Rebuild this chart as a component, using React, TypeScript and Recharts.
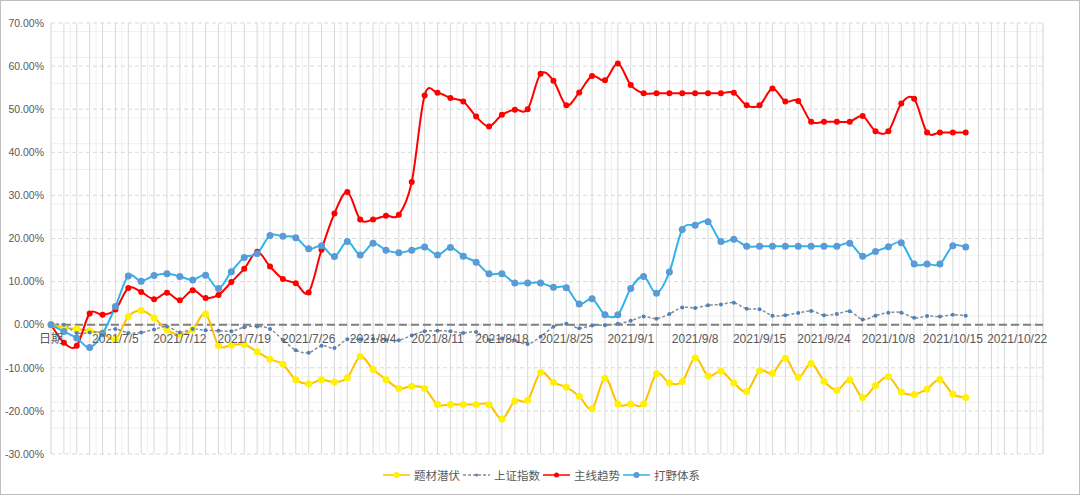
import React from 'react';
import { LineChart, Line, XAxis, YAxis, CartesianGrid, ReferenceLine, Legend } from 'recharts';

const CATEGORIES = [
  '日期', '2021/6/29', '2021/6/30', '2021/7/1', '2021/7/2',
  '2021/7/5', '2021/7/6', '2021/7/7', '2021/7/8', '2021/7/9',
  '2021/7/12', '2021/7/13', '2021/7/14', '2021/7/15', '2021/7/16',
  '2021/7/19', '2021/7/20', '2021/7/21', '2021/7/22', '2021/7/23',
  '2021/7/26', '2021/7/28', '2021/7/29', '2021/7/30', '2021/8/3',
  '2021/8/4', '2021/8/5', '2021/8/6', '2021/8/9', '2021/8/10',
  '2021/8/11', '2021/8/12', '2021/8/13', '2021/8/16', '2021/8/17',
  '2021/8/18', '2021/8/19', '2021/8/20', '2021/8/23', '2021/8/24',
  '2021/8/25', '2021/8/26', '2021/8/27', '2021/8/30', '2021/8/31',
  '2021/9/1', '2021/9/2', '2021/9/3', '2021/9/6', '2021/9/7',
  '2021/9/8', '2021/9/9', '2021/9/10', '2021/9/13', '2021/9/14',
  '2021/9/15', '2021/9/16', '2021/9/17', '2021/9/22', '2021/9/23',
  '2021/9/24', '2021/9/27', '2021/9/28', '2021/9/29', '2021/9/30',
  '2021/10/8', '2021/10/11', '2021/10/12', '2021/10/13', '2021/10/14',
  '2021/10/15', '2021/10/18', '2021/10/19', '2021/10/20', '2021/10/21',
  '2021/10/22', '2021/10/25', '2021/10/26',
];

// 题材潜伏 (%)
const TICAI = [
  0, -0.7, -1.0, -1.4, -2.0, -3.4, 1.9, 3.3, 1.6, -1.2,
  -2.3, -1.1, 2.5, -4.8, -4.7, -4.6, -6.3, -8.0, -9.2, -12.8,
  -13.7, -12.8, -13.3, -12.3, -7.4, -10.4, -12.7, -14.8, -14.3, -14.8,
  -18.5, -18.5, -18.5, -18.5, -18.5, -21.9, -17.7, -17.5, -11.1, -13.4,
  -14.5, -16.6, -19.5, -12.4, -18.4, -18.4, -18.4, -11.4, -13.5, -13.2,
  -7.7, -11.9, -10.8, -13.5, -15.5, -10.7, -11.3, -7.8, -12.2, -9.0,
  -13.1, -15.2, -12.8, -16.9, -14.1, -12.1, -15.6, -16.2, -14.9, -12.7,
  -16.1, -16.9,
];

// 上证指数 (%)
const SZZS = [
  0, 0, -1.9, -1.8, -1.6, -1.0, -1.9, -1.8, -1.1, -0.4,
  -1.8, -1.0, -1.3, -1.4, -1.5, -0.6, -0.4, -1.0, -3.5, -5.9,
  -6.5, -4.9, -5.4, -3.4, -3.4, -3.3, -3.5, -3.6, -2.5, -1.5,
  -1.4, -1.5, -1.9, -1.7, -3.5, -3.2, -3.6, -4.5, -2.8, -0.5,
  0.2, -0.8, -0.2, -0.1, 0.2, 0.9, 1.9, 1.4, 2.5, 4.0,
  3.9, 4.5, 4.7, 5.1, 3.7, 3.6, 2.1, 2.2, 2.7, 3.2,
  2.2, 2.5, 3.1, 1.2, 2.1, 2.8, 2.8, 1.6, 2.0, 1.9,
  2.3, 2.1,
];

// 主线趋势 (%)
const ZHUXIAN = [
  0, -4.2, -4.9, 2.6, 2.3, 3.5, 8.5, 7.6, 5.9, 7.4,
  5.7, 8.0, 6.2, 6.9, 9.9, 13.0, 16.9, 13.5, 10.6, 9.6,
  7.5, 17.4, 25.8, 30.8, 24.4, 24.4, 25.3, 25.5, 33.1, 53.2,
  53.8, 52.6, 51.8, 48.3, 46.0, 48.7, 49.9, 50.0, 58.2, 56.6,
  50.9, 53.9, 57.7, 56.7, 60.6, 55.6, 53.7, 53.7, 53.7, 53.7,
  53.7, 53.7, 53.7, 53.8, 50.9, 50.9, 54.8, 51.8, 51.9, 47.1,
  47.1, 47.1, 47.1, 48.4, 44.9, 44.9, 51.3, 52.4, 44.6, 44.6,
  44.6, 44.6,
];

// 打野体系 (%)
const DAYE = [
  0, -1.6, -3.1, -5.3, -2.1, 4.2, 11.3, 10.1, 11.4, 11.8,
  11.2, 10.4, 11.5, 8.4, 12.3, 15.6, 16.5, 20.7, 20.5, 20.2,
  17.6, 18.3, 15.8, 19.3, 16.2, 18.9, 17.3, 16.7, 17.3, 18.0,
  16.2, 17.9, 15.9, 14.5, 11.8, 11.8, 9.7, 9.7, 9.7, 8.7,
  8.6, 4.8, 6.0, 2.3, 2.3, 8.4, 11.2, 7.3, 12.2, 22.1,
  23.1, 23.9, 19.3, 19.8, 18.2, 18.2, 18.2, 18.2, 18.2, 18.2,
  18.2, 18.2, 18.9, 15.9, 17.0, 18.1, 19.0, 14.1, 14.1, 14.1,
  18.3, 18.0,
];

const Y_TICKS = [-30, -20, -10, 0, 10, 20, 30, 40, 50, 60, 70];
const Y_MINOR = [
  -28, -26, -24, -22, -18, -16, -14, -12, -8, -6, -4, -2,
  2, 4, 6, 8, 12, 14, 16, 18, 22, 24, 26, 28, 32, 34, 36, 38,
  42, 44, 46, 48, 52, 54, 56, 58, 62, 64, 66, 68,
];
const Y_MIN = -30;
const Y_MAX = 70;

const SERIES = [
  { key: 'ticai', name: '题材潜伏', line: '#FFC000', dot: '#FFF200', width: 2, dash: undefined as string | undefined, r: 3.5 },
  { key: 'szzs', name: '上证指数', line: '#8C8C8C', dot: '#4F81BD', width: 1.5, dash: '3 2', r: 2 },
  { key: 'zhuxian', name: '主线趋势', line: '#FF0000', dot: '#FF0000', width: 2, dash: undefined, r: 3 },
  { key: 'daye', name: '打野体系', line: '#2DB4EC', dot: '#5B9BD5', width: 2, dash: undefined, r: 3.5 },
];

const rows = CATEGORIES.map((date, i) => ({
  date,
  ticai: TICAI[i],
  szzs: SZZS[i],
  zhuxian: ZHUXIAN[i],
  daye: DAYE[i],
}));

// Excel-like smoothed line (Catmull-Rom through every point)
const excelCurve: any = (context: any) => {
  let pts: number[][] = [];
  return {
    areaStart() {},
    areaEnd() {},
    lineStart() {
      pts = [];
    },
    point(x: number, y: number) {
      pts.push([+x, +y]);
    },
    lineEnd() {
      const n = pts.length;
      if (!n) return;
      context.moveTo(pts[0][0], pts[0][1]);
      for (let i = 0; i < n - 1; i++) {
        const p0 = pts[i - 1] || pts[i];
        const p1 = pts[i];
        const p2 = pts[i + 1];
        const p3 = pts[i + 2] || p2;
        context.bezierCurveTo(
          p1[0] + (p2[0] - p0[0]) / 6,
          p1[1] + (p2[1] - p0[1]) / 6,
          p2[0] - (p3[0] - p1[0]) / 6,
          p2[1] - (p3[1] - p1[1]) / 6,
          p2[0],
          p2[1]
        );
      }
    },
  };
};

const W = 1080;
const H = 496;
const MARGIN = { top: 23, right: 37, left: 1, bottom: 2 };
const X_AXIS_H = 20;
const LEGEND_H = 20;
const PLOT_H = H - MARGIN.top - MARGIN.bottom - X_AXIS_H - LEGEND_H;
const HALF_STEPS = CATEGORIES.slice(1).map((_, i) => i + 0.5);

const XTick = (props: any) => {
  const { x, y, payload, index } = props;
  if (index % 5 !== 0) return <g />;
  const zeroY = y - (PLOT_H * (0 - Y_MIN)) / (Y_MAX - Y_MIN);
  return (
    <text
      x={x}
      y={zeroY + 18}
      textAnchor="middle"
      fill="#595959"
      fontSize={12}
      fontFamily="'Liberation Sans', 'Noto Sans CJK SC', sans-serif"
    >
      {payload.value}
    </text>
  );
};

const LegendContent = () => (
  <div
    style={{
      width: W,
      height: LEGEND_H,
      display: 'flex',
      justifyContent: 'center',
      alignItems: 'center',
      fontFamily: "'Noto Sans CJK SC', sans-serif",
      fontSize: 11.5,
      color: '#595959',
      paddingLeft: 6,
      boxSizing: 'border-box',
    }}
  >
    {SERIES.map((s) => (
      <div key={s.key} style={{ display: 'flex', alignItems: 'center', marginRight: 3 }}>
        <svg width={27} height={10} style={{ marginRight: 4, display: 'block' }}>
          <line x1={0} y1={5} x2={27} y2={5} stroke={s.line} strokeWidth={1.5} strokeDasharray={s.dash} />
          <circle cx={13.5} cy={5} r={s.r - 0.5} fill={s.dot} />
        </svg>
        <span style={{ whiteSpace: 'nowrap', lineHeight: '20px' }}>{s.name}</span>
      </div>
    ))}
  </div>
);

export default function App() {
  return (
    <div style={{ position: 'relative', width: W, height: H, background: '#fff' }}>
      <style>{'body{margin:0;background:#fff;}'}</style>
      <LineChart width={W} height={H} data={rows} margin={MARGIN}>
        <CartesianGrid vertical={false} horizontalValues={Y_MINOR} stroke="#f0f0f0" />
        <CartesianGrid xAxisId="half" horizontal={false} stroke="#f0f0f0" />
        <CartesianGrid horizontal={false} stroke="#d9d9d9" />
        <CartesianGrid vertical={false} stroke="#d9d9d9" strokeDasharray="4 3" />
        <XAxis
          dataKey="date"
          interval={0}
          tick={<XTick />}
          axisLine={false}
          tickLine={false}
          tickSize={0}
          tickMargin={0}
          height={X_AXIS_H}
        />
        <XAxis xAxisId="half" type="number" domain={[0, CATEGORIES.length - 1]} ticks={HALF_STEPS} hide />
        <YAxis
          domain={[Y_MIN, Y_MAX]}
          ticks={Y_TICKS}
          tickFormatter={(v: number) => `${v.toFixed(2)}%`}
          axisLine={false}
          tickLine={false}
          tickSize={0}
          tickMargin={7}
          width={50}
          tick={{ fill: '#595959', fontSize: 10.5, fontFamily: "'Liberation Sans', sans-serif" }}
        />
        <ReferenceLine y={0} stroke="#7F7F7F" strokeWidth={2} strokeDasharray="8 4" />
        {SERIES.map((s) => (
          <Line
            key={s.key}
            dataKey={s.key}
            name={s.name}
            type={excelCurve}
            stroke={s.line}
            strokeWidth={s.width}
            strokeDasharray={s.dash}
            dot={{ r: s.r, fill: s.dot, stroke: s.dot, strokeWidth: 0 }}
            activeDot={false}
            isAnimationActive={false}
          />
        ))}
        <Legend verticalAlign="bottom" content={<LegendContent />} wrapperStyle={{ bottom: 11, left: 0, width: W }} />
      </LineChart>
      <div
        style={{
          position: 'absolute',
          left: 0,
          top: 0,
          width: W,
          height: H - 1,
          boxSizing: 'border-box',
          border: '1px solid #bfbfbf',
          pointerEvents: 'none',
        }}
      />
    </div>
  );
}
